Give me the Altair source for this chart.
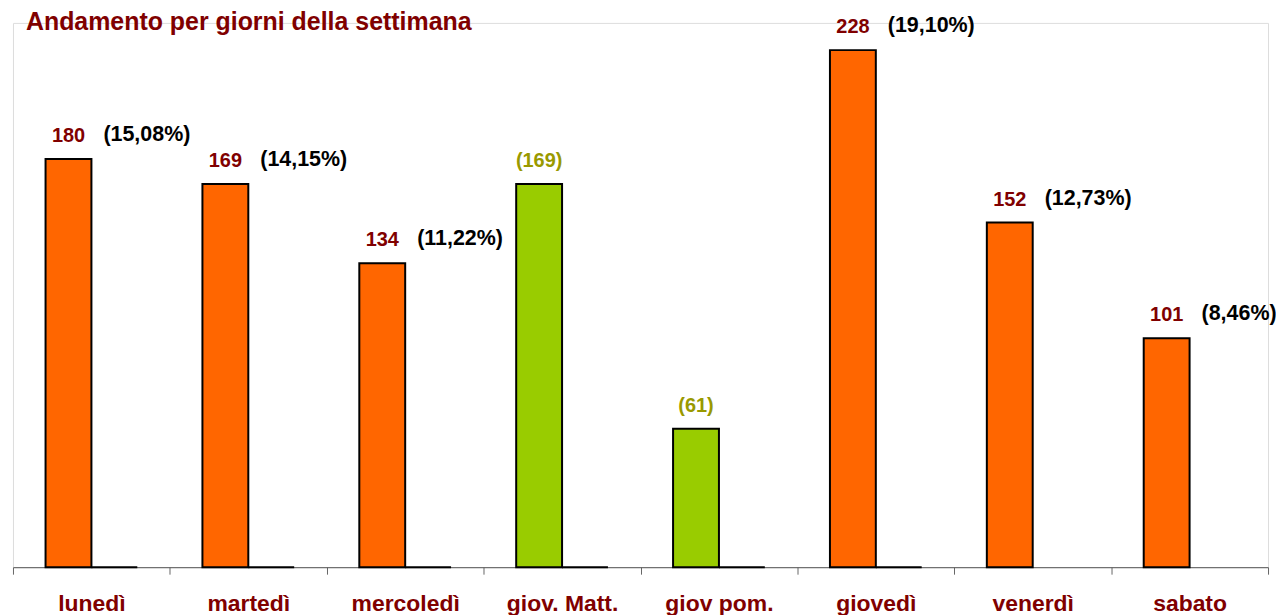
import altair as alt
import pandas as pd

categories = ["lunedì", "martedì", "mercoledì", "giov. Matt.", "giov pom.", "giovedì", "venerdì", "sabato"]
values = [180, 169, 134, 169, 61, 228, 152, 101]
kinds = ["giorno", "giorno", "giorno", "parziale", "parziale", "giorno", "giorno", "giorno"]
value_labels = ["180", "169", "134", "(169)", "(61)", "228", "152", "101"]
percents = [15.08, 14.15, 11.22, None, None, 19.10, 12.73, 8.46]
second_series = [0, 0, 0, 0, 0, 0, None, None]

MAROON = "#800000"
FONT = "Liberation Sans"

rows = []
for c, v, k, s in zip(categories, values, kinds, second_series):
    rows.append({"cat": c, "series": "A", "value": v, "kind": k})
    if s is not None:
        rows.append({"cat": c, "series": "B", "value": s, "kind": k})
bars_df = pd.DataFrame(rows)

lab_df = pd.DataFrame({"cat": categories, "value": values, "kind": kinds, "label": value_labels})
pct_rows = [
    {"cat": c, "value": v, "pct": "(" + f"{p:.2f}".replace(".", ",") + "%)"}
    for c, v, p in zip(categories, values, percents) if p is not None
]
pct_df = pd.DataFrame(pct_rows)

axis_x = alt.Axis(
    title=None, labelAngle=0, tickBand="extent", tickSize=7, tickColor="#666666",
    domainColor="#555555", domainWidth=1, labelColor=MAROON, labelFont=FONT,
    labelFontWeight="bold", labelFontSize=23, labelPadding=18, grid=False,
)
x_scale = alt.Scale(paddingInner=0, paddingOuter=0)
y_enc = alt.Y("value:Q", scale=alt.Scale(domain=[0, 240], nice=False, zero=True), axis=None)


def xenc(band=None):
    if band is None:
        return alt.X("cat:N", sort=categories, scale=x_scale, axis=axis_x)
    return alt.X("cat:N", sort=categories, scale=x_scale, axis=axis_x, bandPosition=band)


bars = alt.Chart(bars_df).mark_bar(stroke="black", strokeWidth=2).encode(
    x=xenc(),
    xOffset=alt.XOffset("series:N", scale=alt.Scale(paddingOuter=0.71, paddingInner=0)),
    y=y_enc,
    color=alt.Color("kind:N", scale=alt.Scale(domain=["giorno", "parziale"], range=["#FF6600", "#99CC00"]), legend=None),
)

BAND_CENTER = 0.354

value_text = alt.Chart(lab_df).mark_text(
    dy=-23, baseline="middle", align="center", fontSize=20, fontWeight="bold", font=FONT
).encode(
    x=xenc(BAND_CENTER),
    y=y_enc,
    text="label:N",
    color=alt.Color("kind:N", scale=alt.Scale(domain=["giorno", "parziale"], range=[MAROON, "#999900"]), legend=None),
)

pct_text = alt.Chart(pct_df).mark_text(
    dy=-24, dx=35, baseline="middle", align="left", fontSize=21.5, fontWeight="bold", font=FONT, color="black"
).encode(
    x=xenc(BAND_CENTER),
    y=y_enc,
    text="pct:N",
)

chart = alt.layer(bars, value_text, pct_text).resolve_scale(color="independent").properties(
    width=1259,
    height=546,
    autosize=alt.AutoSizeParams(type="none"),
    padding={"left": 5, "top": 14, "right": 8, "bottom": 48},
    title=alt.Title(
        "Andamento per giorni della settimana", anchor="start", frame="group", fontSize=25,
        font=FONT, fontWeight="bold", color=MAROON, dx=13, offset=-20,
    ),
).configure_view(stroke="#ffffff", strokeWidth=0).configure_axis(grid=False).configure_axisY(
    domain=False, ticks=False, labels=False
).configure(background="white")

chart.save("out.html", embed_options={"renderer": "svg", "actions": False})
